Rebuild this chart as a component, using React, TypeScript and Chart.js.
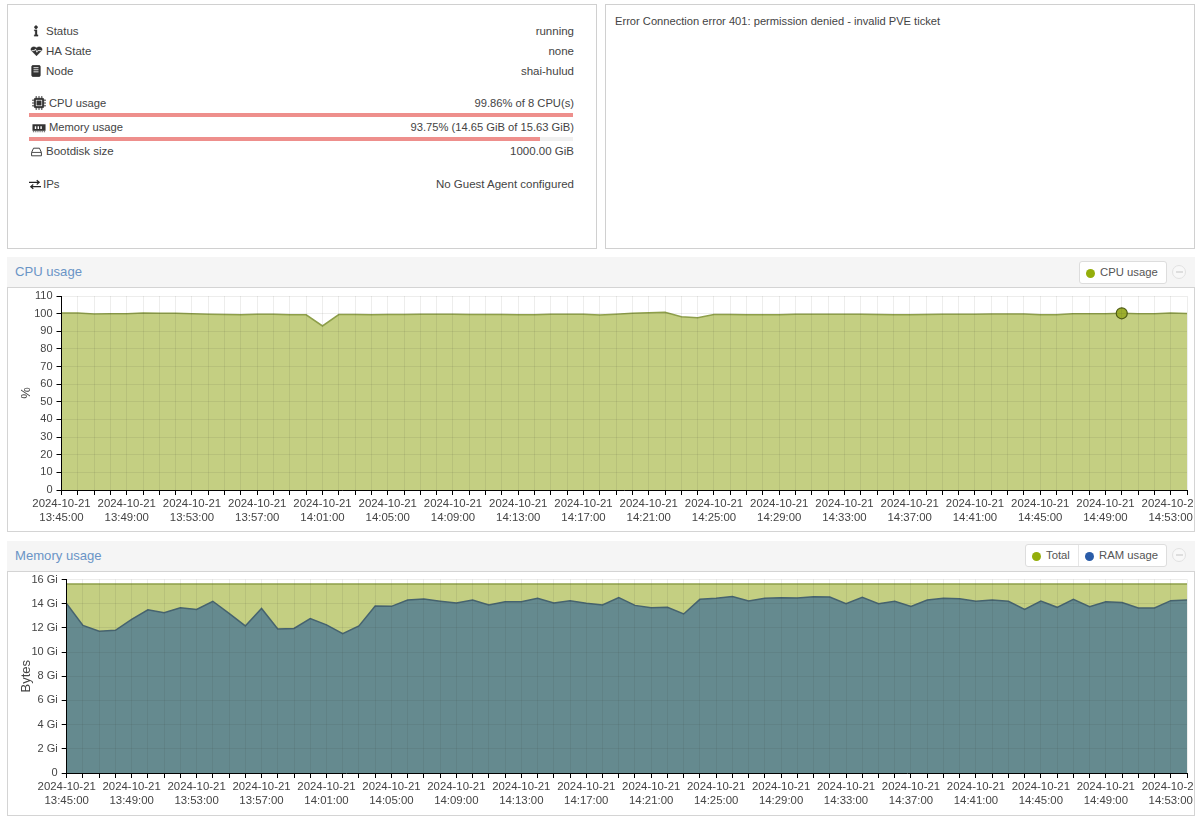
import React, { useEffect, useRef } from "react";
import { Chart, registerables } from "chart.js";

Chart.register(...registerables);

const DATE = "2024-10-21";
const minutes = [
  "13:45:00","13:46:00","13:47:00","13:48:00","13:49:00","13:50:00","13:51:00","13:52:00","13:53:00","13:54:00",
  "13:55:00","13:56:00","13:57:00","13:58:00","13:59:00","14:00:00","14:01:00","14:02:00","14:03:00","14:04:00",
  "14:05:00","14:06:00","14:07:00","14:08:00","14:09:00","14:10:00","14:11:00","14:12:00","14:13:00","14:14:00",
  "14:15:00","14:16:00","14:17:00","14:18:00","14:19:00","14:20:00","14:21:00","14:22:00","14:23:00","14:24:00",
  "14:25:00","14:26:00","14:27:00","14:28:00","14:29:00","14:30:00","14:31:00","14:32:00","14:33:00","14:34:00",
  "14:35:00","14:36:00","14:37:00","14:38:00","14:39:00","14:40:00","14:41:00","14:42:00","14:43:00","14:44:00",
  "14:45:00","14:46:00","14:47:00","14:48:00","14:49:00","14:50:00","14:51:00","14:52:00","14:53:00","14:54:00",
];
const cpuUsage = [
  100.3,100.3,99.8,99.9,100,100.3,100.2,100.2,99.9,99.6,
  99.5,99.4,99.7,99.6,99.3,99.3,93,99.5,99.5,99.3,
  99.5,99.5,99.6,99.6,99.6,99.5,99.5,99.5,99.3,99.4,
  99.6,99.7,99.6,99.2,99.7,100.2,100.5,100.8,98.3,97.7,
  99.5,99.5,99.4,99.3,99.4,99.6,99.7,99.6,99.6,99.6,
  99.5,99.4,99.4,99.5,99.7,99.7,99.6,99.8,99.8,99.8,
  99.4,99.4,100,100,100,100.2,99.9,100,100.3,100.1,
];
const cpuHighlightIndex = 65;
const ramUsage = [
  14.0,12.2,11.73,11.8,12.7,13.5,13.25,13.67,13.53,14.2,
  13.2,12.16,13.6,11.9,11.95,12.77,12.25,11.53,12.16,13.8,
  13.78,14.3,14.38,14.2,14.05,14.3,13.9,14.16,14.16,14.44,
  14.05,14.25,14.03,13.9,14.5,13.86,13.67,13.7,13.15,14.36,
  14.44,14.6,14.22,14.44,14.5,14.47,14.58,14.55,14.0,14.52,
  14.0,14.2,13.78,14.3,14.44,14.41,14.2,14.3,14.2,13.53,
  14.22,13.7,14.36,13.75,14.16,14.1,13.64,13.64,14.25,14.3,
];
const ramTotal = [
  15.63,15.63,15.63,15.63,15.63,15.63,15.63,15.63,15.63,15.63,
  15.63,15.63,15.63,15.63,15.63,15.63,15.63,15.63,15.63,15.63,
  15.63,15.63,15.63,15.63,15.63,15.63,15.63,15.63,15.63,15.63,
  15.63,15.63,15.63,15.63,15.63,15.63,15.63,15.63,15.63,15.63,
  15.63,15.63,15.63,15.63,15.63,15.63,15.63,15.63,15.63,15.63,
  15.63,15.63,15.63,15.63,15.63,15.63,15.63,15.63,15.63,15.63,
  15.63,15.63,15.63,15.63,15.63,15.63,15.63,15.63,15.63,15.63,
];

const FONT = '"Liberation Sans", Arial, sans-serif';
const TEXT = "#444";
const GREEN = "#94ae0a";
const GREEN_FILL = "#c4cf82";
const GREEN_LINE = "#8e9f4a";
const BLUE = "#2a5ca8";
const BLUE_FILL = "#658a8f";
const BLUE_LINE = "#46636f";
const GRID = "rgba(60,60,40,0.09)";

function scales(yOpts: any, axisWidth: number, titleText: string) {
  return {
    x: {
      type: "category" as const,
      offset: false,
      afterFit: (s: any) => { s.height = 41; },
      grid: { color: GRID, tickColor: "#000", tickLength: 5, z: 1 },
      border: { color: "#000", width: 1, z: 2 },
      ticks: {
        autoSkip: false, maxRotation: 0, minRotation: 0, padding: 2, color: TEXT,
        font: { family: FONT, size: 11.4, lineHeight: 1.2 },
        callback: (_v: any, i: number) => (i % 4 === 0 && i < minutes.length - 1 ? [DATE, minutes[i]] : ""),
      },
    },
    y: {
      min: 0,
      afterFit: (s: any) => { s.width = axisWidth; s.paddingTop = 0; s.paddingBottom = 0; },
      grid: { color: GRID, tickColor: "#000", tickLength: 5, z: 1 },
      border: { color: "#000", width: 1, z: 2 },
      title: { display: true, text: titleText, color: TEXT, font: { family: FONT, size: 13 }, padding: { top: 11, bottom: 0 } },
      ...yOpts,
    },
  };
}

function useChart(build: (c: HTMLCanvasElement) => Chart) {
  const ref = useRef<HTMLCanvasElement>(null);
  useEffect(() => {
    const chart = build(ref.current!);
    return () => chart.destroy();
  }, []);
  return ref;
}

const baseOptions = {
  animation: false as const,
  responsive: false,
  plugins: { legend: { display: false }, tooltip: { enabled: false } },
};

function CpuChart() {
  const ref = useChart((c) => new Chart(c, {
    type: "line",
    data: {
      labels: minutes,
      datasets: [{
        label: "CPU usage",
        data: cpuUsage,
        fill: "origin",
        backgroundColor: GREEN_FILL,
        borderColor: GREEN_LINE,
        borderWidth: 1.5,
        tension: 0,
        pointRadius: (ctx: any) => (ctx.dataIndex === cpuHighlightIndex ? 5.5 : 0),
        pointBackgroundColor: "#9cae2c",
        pointBorderColor: "#4f5c14",
        pointBorderWidth: 1.2,
      }],
    },
    options: {
      ...baseOptions,
      layout: { padding: { top: 8, right: 7, bottom: 0, left: 0 } },
      scales: scales({
        max: 110,
        ticks: { stepSize: 10, autoSkip: false, padding: 4, color: TEXT, font: { family: FONT, size: 11 } },
      }, 53.5, "%"),
    },
  }));
  return <canvas ref={ref} width={1186} height={243} style={{ position: "absolute", left: 8, top: 288, width: 1186, height: 243 }} />;
}

function MemChart() {
  const ref = useChart((c) => new Chart(c, {
    type: "line",
    data: {
      labels: minutes,
      datasets: [
        {
          label: "RAM usage", data: ramUsage, fill: "origin", backgroundColor: BLUE_FILL,
          borderColor: BLUE_LINE, borderWidth: 1.5, tension: 0, pointRadius: 0,
        },
        {
          label: "Total", data: ramTotal, fill: "origin", backgroundColor: GREEN_FILL,
          borderColor: GREEN_LINE, borderWidth: 1.5, tension: 0, pointRadius: 0,
        },
      ],
    },
    options: {
      ...baseOptions,
      layout: { padding: { top: 8.5, right: 7, bottom: 0, left: 0 } },
      scales: scales({
        max: 16,
        ticks: {
          stepSize: 2, autoSkip: false, padding: 4, color: TEXT, font: { family: FONT, size: 11 },
          callback: (v: number) => (v === 0 ? "0" : `${v} Gi`),
        },
      }, 58.7, "Bytes"),
    },
  }));
  return <canvas ref={ref} width={1186} height={243} style={{ position: "absolute", left: 8, top: 571, width: 1186, height: 243 }} />;
}

const abs = (left: number, top: number, width: number, height: number, extra: React.CSSProperties = {}): React.CSSProperties => ({
  position: "absolute", left, top, width, height, boxSizing: "border-box", ...extra,
});

const ic = { stroke: "#333", fill: "#333" };
const icons: Record<string, React.ReactNode> = {
  info: <svg width="12" height="12" viewBox="0 0 14 14"><circle cx="7" cy="2.6" r="1.6" {...ic} /><path d="M5 5.5h3.2v6H9.4V13H4.9v-1.5H6V7H5z" {...ic} strokeWidth="0.3" /></svg>,
  heart: <svg width="13" height="12" viewBox="0 0 16 14"><path d="M8 13L1.5 6.5C-.5 3.5 3.8-.5 8 3c4.2-3.5 8.5.5 6.5 3.5z" {...ic} strokeWidth="0.3" /><path d="M2 6.5h3.5l1.2-2 1.8 4 1-2H14" fill="none" stroke="#fff" strokeWidth="1" /></svg>,
  node: <svg width="10" height="12" viewBox="0 0 12 14"><rect x="1" y="0.5" width="10" height="13" rx="1" {...ic} /><path d="M3 3h6M3 5.5h6M3 8h6" stroke="#fff" strokeWidth="1" /></svg>,
  chip: <svg width="14" height="14" viewBox="0 0 15 15"><rect x="2.5" y="2.5" width="10" height="10" rx="1" fill="#333" stroke="#333" /><path d="M4.5 0v15M7.5 0v15M10.5 0v15M0 4.5h15M0 7.5h15M0 10.5h15" stroke="#333" strokeWidth="1" /><rect x="4.5" y="4.5" width="6" height="6" fill="#333" stroke="#fff" strokeWidth="0.7" /></svg>,
  ram: <svg width="14" height="10" viewBox="0 0 15 10"><rect x="0.5" y="1" width="14" height="7" fill="#333" /><path d="M3 3h1.5v3H3zM6 3h1.5v3H6zM9 3h1.5v3H9z" fill="#fff" /><path d="M1 9h13" stroke="#333" strokeDasharray="1 1" /></svg>,
  disk: <svg width="11" height="10" viewBox="0 0 13 11"><path d="M3 1h7l2.3 5v4H.7V6z" fill="none" stroke="#333" strokeWidth="1.1" /><path d="M1 6h11" stroke="#333" /></svg>,
  swap: <svg width="12" height="11" viewBox="0 0 14 11"><path d="M0 3h11M9 .5L12 3 9 5.5M14 8H3M5 5.5L2 8l3 2.5" fill="none" stroke="#222" strokeWidth="1.3" /></svg>,
};

const infoRows = [
  { icon: "info", iconX: 30, iconY: 25, labelX: 46, y: 31, label: "Status", value: "running", size: 11.5 },
  { icon: "heart", iconX: 30, iconY: 45, labelX: 46, y: 51, label: "HA State", value: "none", size: 11.5 },
  { icon: "node", iconX: 31, iconY: 65, labelX: 46, y: 71, label: "Node", value: "shai-hulud", size: 11.5 },
  { icon: "chip", iconX: 32, iconY: 96, labelX: 49, y: 103, label: "CPU usage", value: "99.86% of 8 CPU(s)", size: 11.2 },
  { icon: "ram", iconX: 32, iconY: 123, labelX: 49, y: 127, label: "Memory usage", value: "93.75% (14.65 GiB of 15.63 GiB)", size: 11.2 },
  { icon: "disk", iconX: 31, iconY: 147, labelX: 46, y: 151, label: "Bootdisk size", value: "1000.00 GiB", size: 11.5 },
  { icon: "swap", iconX: 29, iconY: 179, labelX: 43, y: 184, label: "IPs", value: "No Guest Agent configured", size: 11.5 },
];

const txt = (y: number, size = 11.3): React.CSSProperties => ({
  position: "absolute", top: y - 8, height: 16, lineHeight: "16px", fontSize: size, color: TEXT, whiteSpace: "nowrap",
});

function Dot({ x, y, color }: { x: number; y: number; color: string }) {
  return <div style={abs(x - 4.5, y - 4.5, 9, 9, { background: color, borderRadius: "50%" })} />;
}

function Collapse({ y }: { y: number }) {
  return (
    <div style={abs(1172, y - 7, 14, 14, { border: "1px solid #e2e2e2", borderRadius: "50%", background: "#f8f8f8" })}>
      <div style={abs(2.5, 5, 7, 2, { background: "#dedede" })} />
    </div>
  );
}

function Header({ top, title }: { top: number; title: string }) {
  return (
    <>
      <div style={abs(7, top, 1188, 30, { background: "#f5f5f5" })} />
      <div style={{ position: "absolute", left: 15, top: top + 6, fontSize: 13.1, lineHeight: "18px", color: "#6a94c6" }}>{title}</div>
      <div style={abs(7, top + 30, 1188, 245, { background: "#fff", border: "1px solid #d4d4d4" })} />
    </>
  );
}

export default function App() {
  return (
    <div style={{ position: "absolute", left: 0, top: 0, width: 1200, height: 824, overflow: "hidden", background: "#fff", fontFamily: FONT }}>
      <div style={abs(7, 4, 590, 245, { border: "1px solid #d0d0d0" })} />
      <div style={abs(605, 4, 590, 245, { border: "1px solid #d0d0d0" })} />
      {infoRows.map((r) => (
        <React.Fragment key={r.label}>
          <div style={{ position: "absolute", left: r.iconX, top: r.iconY, lineHeight: 0 }}>{icons[r.icon]}</div>
          <div style={{ ...txt(r.y, r.size), left: r.labelX }}>{r.label}</div>
          <div style={{ ...txt(r.y, r.size), right: 1200 - 574 }}>{r.value}</div>
        </React.Fragment>
      ))}
      <div style={abs(29, 113, 544, 4, { background: "#ee8f8c" })} />
      <div style={abs(29, 137, 544, 4, { background: "#f0f0f0" })} />
      <div style={abs(29, 137, 511, 4, { background: "#ee8f8c" })} />
      <div style={{ ...txt(21, 11.15), left: 615 }}>Error Connection error 401: permission denied - invalid PVE ticket</div>

      <Header top={257} title="CPU usage" />
      <div style={abs(1079, 261, 88, 23, { background: "#fff", border: "1px solid #ddd", borderRadius: 3 })} />
      <Dot x={1090} y={273} color={GREEN} />
      <div style={{ ...txt(272), left: 1100, color: "#555" }}>CPU usage</div>
      <Collapse y={272} />
      <CpuChart />

      <Header top={541} title="Memory usage" />
      <div style={abs(1025, 544, 142, 23, { background: "#fff", border: "1px solid #ddd", borderRadius: 3 })} />
      <div style={abs(1078, 545, 1, 21, { background: "#e6e6e6" })} />
      <Dot x={1036} y={556} color={GREEN} />
      <div style={{ ...txt(555), left: 1046, color: "#555" }}>Total</div>
      <Dot x={1089} y={556} color={BLUE} />
      <div style={{ ...txt(555), left: 1099, color: "#555" }}>RAM usage</div>
      <Collapse y={555} />
      <MemChart />
    </div>
  );
}
